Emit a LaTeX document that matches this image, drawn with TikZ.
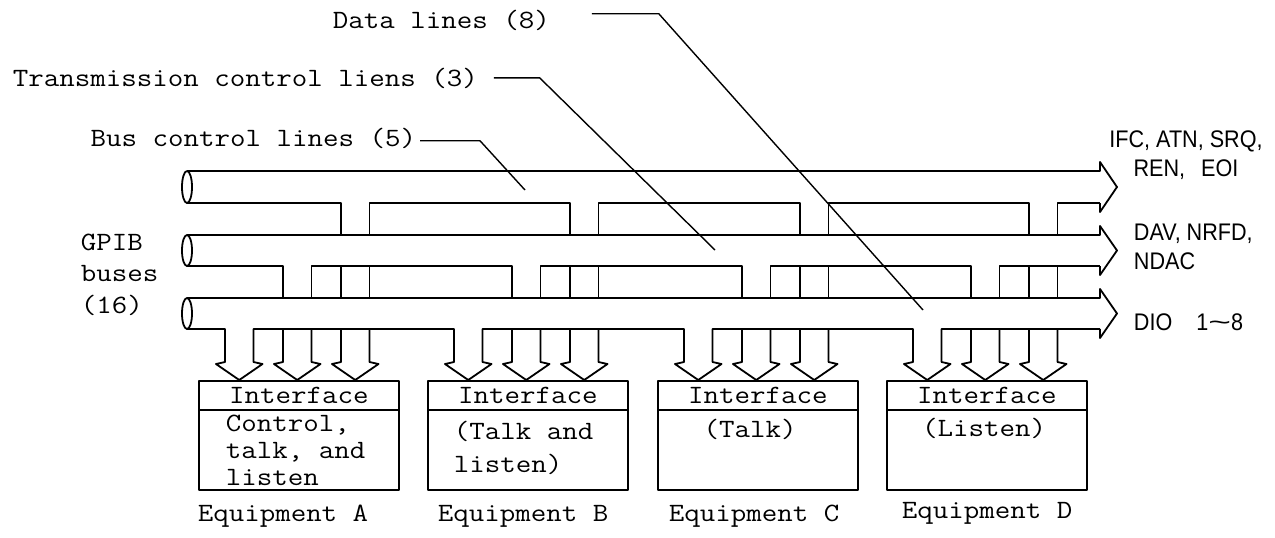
\documentclass[tikz,border=0pt]{standalone}
\usepackage{fontspec}
\usepackage{graphicx}
\setmonofont[FakeStretch=1.14]{Latin Modern Mono}
\newfontfamily\narrowfont[FakeStretch=0.9]{Liberation Sans}

\begin{document}
\begin{tikzpicture}[
  x=0.5pt, y=-0.5pt,
  line width=0.9pt, line join=round,
  every node/.style={font=\ttfamily\fontsize{13.2}{15}\selectfont, inner sep=0pt},
  ld/.style={line width=0.7pt},
  sig/.style={font=\narrowfont\fontsize{12}{14.5}\selectfont},
  eqbox/.style={draw, anchor=north west, minimum width=100pt, minimum height=54.5pt}
]
\useasboundingbox (0,0) rectangle (1275,537);

% line group labels
\node[anchor=base west] (data) at (332,28) {Data lines (8)};
\node[anchor=base west] (trans) at (12,86) {Transmission control liens (3)};
\node[anchor=base east] (busctl) at (417,146) {Bus control lines (5)};
\node[anchor=north west, align=left, font=\ttfamily\fontsize{13.2}{15.75}\selectfont]
   (gpib) at (80,233) {GPIB\\buses\\(16)};

% bus control lines
\draw (187,171) -- (1100,171) -- (1100,162) -- (1117,187) -- (1100,212) -- (1100,203);
\draw (187,203) \foreach \x in {225,454,684,913}
   {-- ({\x+116},203) -- ({\x+116},235) ({\x+144.5},235) -- ({\x+144.5},203)} -- (1100,203);
\draw (187,187) ellipse [x radius=2.5pt, y radius=8pt];

% transmission control lines
\draw (187,235) -- (1100,235) -- (1100,226) -- (1117,250.5) -- (1100,275) -- (1100,266);
\draw (187,266) \foreach \x in {225,454,684,913}
   {-- ({\x+58},266) -- ({\x+58},298) ({\x+86.5},298) -- ({\x+86.5},266)} -- (1100,266);
\foreach \x in {225,454,684,913}
   \draw ({\x+116},266) -- ({\x+116},298) ({\x+144.5},266) -- ({\x+144.5},298);
\draw (187,250.5) ellipse [x radius=2.5pt, y radius=7.75pt];

% data lines
\draw (187,298) -- (1100,298) -- (1100,289) -- (1117,313.5) -- (1100,338) -- (1100,329);
\draw (187,329) \foreach \x in {225,454,684,913}
   {-- (\x,329) -- (\x,362) -- ({\x-9},364) -- ({\x+14.25},380)
    -- ({\x+37.5},364) -- ({\x+28.5},362) -- ({\x+28.5},329)} -- (1100,329);
\foreach \x in {225,454,684,913}
  \foreach \d in {58,116}
    \draw ({\x+\d},329) -- ({\x+\d},362) -- ({\x+\d-9},364) -- ({\x+\d+14.25},380)
       -- ({\x+\d+37.5},364) -- ({\x+\d+28.5},362) -- ({\x+\d+28.5},329);
\draw (187,313.5) ellipse [x radius=2.5pt, y radius=7.75pt];

% leaders
\coordinate (ctlend) at (525,190);
\coordinate (transend) at (715,250);
\coordinate (dataend) at (923,310);
\draw[ld] ([xshift=1.5pt,yshift=-1.4pt]busctl.east) -- ++(60,0) -- (ctlend);
\draw[ld] ([xshift=7.5pt]trans.east) -- ++(46,0) -- (transend);
\draw[ld] ([xshift=20.5pt,yshift=3.1pt]data.east) -- ++(67,0) -- (dataend);

% signal names
\node[sig, align=center] (sigctl) at (1186,155) {IFC, ATN, SRQ,\\REN,\hspace{8pt}EOI};
\node[sig, align=left, anchor=west] (sigtrans) at (1133,247) {DAV, NRFD,\\NDAC};
\node[sig, anchor=west] (sigdata) at (1133,322)
   {DIO\hspace{12pt}1\scalebox{1.8}[1]{\textasciitilde}8};

% equipment
\node[eqbox] (eqA) at (198,380) {};
\node[eqbox] (eqB) at (427,380) {};
\node[eqbox] (eqC) at (657,380) {};
\node[eqbox] (eqD) at (886,380) {};
\draw ([yshift=-15pt]eqA.north west) -- ([yshift=-15pt]eqA.north east);
\draw ([yshift=-15pt]eqB.north west) -- ([yshift=-15pt]eqB.north east);
\draw ([yshift=-15pt]eqC.north west) -- ([yshift=-15pt]eqC.north east);
\draw ([yshift=-15pt]eqD.north west) -- ([yshift=-15pt]eqD.north east);
\node (ifA) at ([yshift=-7.5pt]eqA.north) {Interface};
\node (ifB) at ([yshift=-7.5pt]eqB.north) {Interface};
\node (ifC) at ([yshift=-7.5pt]eqC.north) {Interface};
\node (ifD) at ([yshift=-7.5pt]eqD.north) {Interface};
\node[anchor=north west, align=left, font=\ttfamily\fontsize{13.2}{13.5}\selectfont]
   (roleA) at (225,414) {Control,\\talk, and\\listen};
\node[anchor=north west, align=left, font=\ttfamily\fontsize{13.2}{16.5}\selectfont]
   (roleB) at (453,420) {(Talk and\\listen)};
\node[anchor=base] (roleC) at (750,437) {(Talk)};
\node[anchor=base] (roleD) at (984,436) {(Listen)};
\node[anchor=base] (nameA) at (283,521) {Equipment A};
\node[anchor=base] (nameB) at (523,521) {Equipment B};
\node[anchor=base] (nameC) at (754,521) {Equipment C};
\node[anchor=base] (nameD) at (987,518) {Equipment D};
\end{tikzpicture}
\end{document}
